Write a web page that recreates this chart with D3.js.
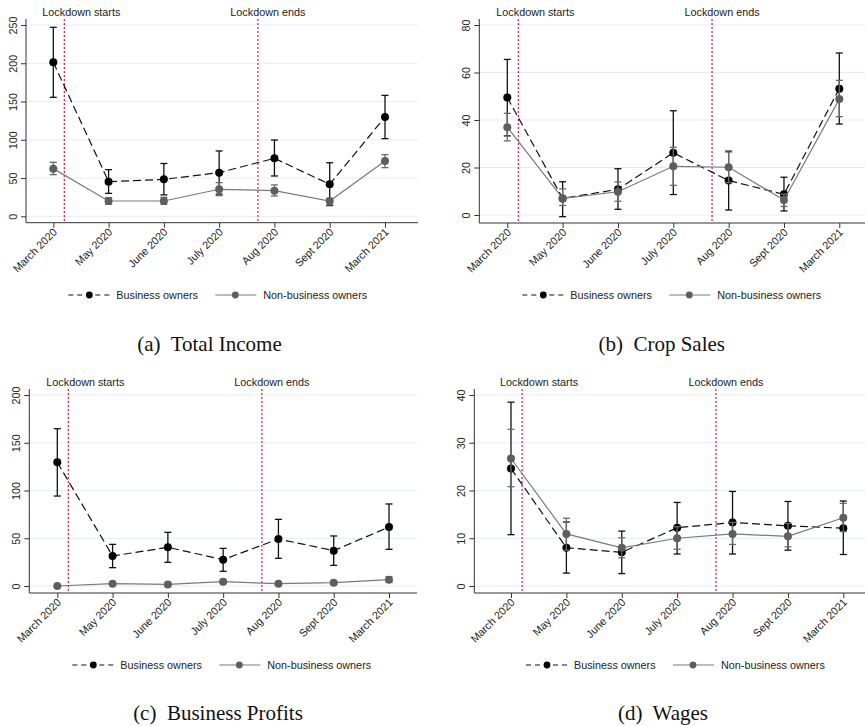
<!DOCTYPE html>
<html>
<head>
<meta charset="utf-8">
<script src="https://cdn.jsdelivr.net/npm/d3@7"></script>
<style>
  html, body { margin: 0; padding: 0; background: #fff; }
  svg { display: block; }
</style>
</head>
<body>
<svg id="chart" width="865" height="726"></svg>
<script>
// ---------- DATA ----------
const categories = ["March 2020", "May 2020", "June 2020", "July 2020", "Aug 2020", "Sept 2020", "March 2021"];
const seriesNames = ["Business owners", "Non-business owners"];
const lockdownLabels = ["Lockdown starts", "Lockdown ends"];
const lockdownPos = [0.2, 3.7]; // position on the category index axis

// (a) Total Income
const incomeTicks = [0, 50, 100, 150, 200, 250];
const incomeBiz   = [201.2, 45.3, 48.3, 57, 75.8, 41.8, 129.8];
const incomeBizLo = [155.5, 30, 28, 29, 52.7, 14, 101.5];
const incomeBizHi = [247, 61, 69, 85.4, 99.7, 70, 158];
const incomeNon   = [62.3, 20, 20, 35.3, 33.5, 20, 72.3];
const incomeNonLo = [54.4, 15.7, 15.7, 27, 26.6, 15, 63.6];
const incomeNonHi = [70.6, 24.4, 24.8, 44, 41, 23.5, 80.6];

// (b) Crop Sales
const cropTicks = [0, 20, 40, 60, 80];
const cropBiz   = [49.5, 7, 10.8, 26.2, 14.5, 8.7, 53.2];
const cropBizLo = [33.3, -0.7, 2.4, 8.6, 2.1, 1.7, 38.3];
const cropBizHi = [65.5, 14, 19.5, 43.9, 26.9, 15.9, 68.2];
const cropNon   = [37, 7, 9.8, 20.5, 20.1, 6.3, 48.8];
const cropNonLo = [31.2, 4, 5.8, 12.5, 13.6, 3.6, 41.4];
const cropNonHi = [42.8, 11, 13.9, 28.5, 26.5, 8.8, 56.7];

// (c) Business Profits
const profitTicks = [0, 50, 100, 150, 200];
const profitBiz   = [129.5, 31.4, 40.5, 27.6, 49.2, 37, 61.8];
const profitBizLo = [94.2, 19.2, 24.8, 15.4, 29, 21.6, 38.4];
const profitBizHi = [164.7, 43.6, 56.2, 39.4, 69.8, 52.4, 85.9];
const profitNon   = [0, 2.4, 1.7, 4.5, 2.4, 3.5, 6.6];
const profitNonLo = [-0.5, 0.9, 0.4, 2.5, 1.1, 2, 3.8];
const profitNonHi = [0.5, 3.9, 3, 6.5, 3.7, 5, 9.8];

// (d) Wages
const wageTicks = [0, 10, 20, 30, 40];
const wageBiz   = [24.6, 8, 7.05, 12.2, 13.3, 12.6, 12.1];
const wageBizLo = [10.75, 2.7, 2.6, 6.7, 6.7, 7.5, 6.6];
const wageBizHi = [38.5, 13.4, 11.5, 17.5, 19.8, 17.7, 17.8];
const wageNon   = [26.7, 10.9, 8, 10, 10.9, 10.4, 14.3];
const wageNonLo = [20.8, 7.5, 5.9, 7.7, 8.7, 8.2, 11.4];
const wageNonHi = [32.8, 14.2, 10.1, 12.4, 13.3, 13.1, 17.3];

const captions = ["(a)  Total Income", "(b)  Crop Sales", "(c)  Business Profits", "(d)  Wages"];

// ---------- LAYOUT ----------
const panels = [
  { ticks: incomeTicks, biz: incomeBiz, bizLo: incomeBizLo, bizHi: incomeBizHi, non: incomeNon, nonLo: incomeNonLo, nonHi: incomeNonHi,
    left: 26, right: 418, top: 19, axisY: 222.7, y0: 216.3, y1: 25, x0: 53.3, x1: 385, legY: 295, capX: 209.5, capY: 351, caption: captions[0] },
  { ticks: cropTicks, biz: cropBiz, bizLo: cropBizLo, bizHi: cropBizHi, non: cropNon, nonLo: cropNonLo, nonHi: cropNonHi,
    left: 479.3, right: 865, top: 19, axisY: 223, y0: 215, y1: 25, x0: 507.3, x1: 839.3, legY: 295, capX: 661.7, capY: 351, caption: captions[1] },
  { ticks: profitTicks, biz: profitBiz, bizLo: profitBizLo, bizHi: profitBizHi, non: profitNon, nonLo: profitNonLo, nonHi: profitNonHi,
    left: 29.3, right: 417, top: 389, axisY: 593, y0: 586, y1: 395, x0: 57.3, x1: 389, legY: 665, capX: 218, capY: 720, caption: captions[2] },
  { ticks: wageTicks, biz: wageBiz, bizLo: wageBizLo, bizHi: wageBizHi, non: wageNon, nonLo: wageNonLo, nonHi: wageNonHi,
    left: 474.3, right: 865, top: 389, axisY: 593, y0: 586, y1: 395, x0: 511, x1: 843.3, legY: 665, capX: 663, capY: 720, caption: captions[3] }
];

const FONT = "'Liberation Sans', Arial, Helvetica, sans-serif";
const SERIF = "'Liberation Serif', 'Times New Roman', serif";
const BLACK = "#111";
const GREY_LINE = "#7a7a7a";
const GREY_DOT = "#5e5e5e";
const GREY_BAR = "#6a6a6a";
const RED = "#e8294f";
const GRID = "#e4edf0";

const svg = d3.select("#chart");

panels.forEach(p => {
  const g = svg.append("g");
  const yMax = p.ticks[p.ticks.length - 1];
  const y = d3.scaleLinear().domain([0, yMax]).range([p.y0, p.y1]);
  const xi = d3.scaleLinear().domain([0, categories.length - 1]).range([p.x0, p.x1]);
  const x = d3.scalePoint().domain(categories).range([p.x0, p.x1]);

  // gridlines
  g.append("g").selectAll("line").data(p.ticks).join("line")
    .attr("x1", p.left).attr("x2", p.right)
    .attr("y1", d => y(d)).attr("y2", d => y(d))
    .attr("stroke", GRID).attr("stroke-width", 1);

  // y axis
  const yAxis = d3.axisLeft(y).tickValues(p.ticks).tickSize(5).tickPadding(4).tickFormat(d3.format("d"));
  const ya = g.append("g").attr("transform", `translate(${p.left},0)`).call(yAxis);
  ya.select(".domain").remove();
  ya.selectAll(".tick line").attr("stroke", "#333");
  ya.selectAll(".tick text")
    .attr("x", null).attr("dy", null)
    .attr("transform", "translate(-9,0) rotate(-90)")
    .attr("text-anchor", "middle")
    .attr("font-family", FONT).attr("font-size", "10.8px").attr("fill", "#222");
  g.append("line").attr("x1", p.left).attr("x2", p.left).attr("y1", p.top).attr("y2", p.axisY)
    .attr("stroke", "#333").attr("stroke-width", 1);

  // x axis
  const xAxis = d3.axisBottom(x).tickSize(5).tickPadding(3);
  const xa = g.append("g").attr("transform", `translate(0,${p.axisY})`).call(xAxis);
  xa.select(".domain").remove();
  xa.selectAll(".tick line").attr("stroke", "#333");
  xa.selectAll(".tick text")
    .attr("y", null).attr("dy", null)
    .attr("transform", "translate(4,10) rotate(-45)")
    .attr("text-anchor", "end")
    .attr("font-family", FONT).attr("font-size", "10.8px").attr("fill", "#222");
  g.append("line").attr("x1", p.left).attr("x2", p.right).attr("y1", p.axisY).attr("y2", p.axisY)
    .attr("stroke", "#333").attr("stroke-width", 1);

  // lockdown lines
  g.append("g").selectAll("line").data(lockdownPos).join("line")
    .attr("x1", d => xi(d)).attr("x2", d => xi(d))
    .attr("y1", p.top).attr("y2", p.axisY)
    .attr("stroke", RED).attr("stroke-width", 1.3).attr("stroke-dasharray", "2,2");
  const labelOffsets = [17, 10];
  g.append("g").selectAll("text").data(lockdownLabels).join("text")
    .attr("x", (d, i) => xi(lockdownPos[i]) + labelOffsets[i])
    .attr("y", p.top - 3)
    .attr("text-anchor", "middle")
    .attr("font-family", FONT).attr("font-size", "10.8px").attr("fill", "#222")
    .text(d => d);

  const idx = d3.range(categories.length);
  const cap = 3.5;

  function drawSeries(vals, lo, hi, barColor, lineColor, dotColor, dash, r) {
    const eb = g.append("g").attr("stroke", barColor).attr("stroke-width", 1.3).attr("fill", "none");
    eb.selectAll("line.v").data(idx).join("line").attr("class", "v")
      .attr("x1", i => x(categories[i])).attr("x2", i => x(categories[i]))
      .attr("y1", i => y(lo[i])).attr("y2", i => y(hi[i]));
    eb.selectAll("line.t").data(idx).join("line").attr("class", "t")
      .attr("x1", i => x(categories[i]) - cap).attr("x2", i => x(categories[i]) + cap)
      .attr("y1", i => y(hi[i])).attr("y2", i => y(hi[i]));
    eb.selectAll("line.b").data(idx).join("line").attr("class", "b")
      .attr("x1", i => x(categories[i]) - cap).attr("x2", i => x(categories[i]) + cap)
      .attr("y1", i => y(lo[i])).attr("y2", i => y(lo[i]));
    const line = d3.line().x(i => x(categories[i])).y(i => y(vals[i]));
    g.append("path").datum(idx).attr("d", line)
      .attr("fill", "none").attr("stroke", lineColor).attr("stroke-width", 1.2)
      .attr("stroke-dasharray", dash);
    g.append("g").selectAll("circle").data(idx).join("circle")
      .attr("cx", i => x(categories[i])).attr("cy", i => y(vals[i])).attr("r", r)
      .attr("fill", dotColor);
  }
  drawSeries(p.biz, p.bizLo, p.bizHi, BLACK, BLACK, "#000", "8,4", 4);
  drawSeries(p.non, p.nonLo, p.nonHi, GREY_BAR, GREY_LINE, GREY_DOT, null, 4);

  // legend
  const lg = g.append("g").attr("transform", `translate(${p.x0},${p.legY})`);
  lg.append("line").attr("x1", 15).attr("x2", 58).attr("y1", 0).attr("y2", 0)
    .attr("stroke", BLACK).attr("stroke-width", 1.2).attr("stroke-dasharray", "5,4");
  lg.append("circle").attr("cx", 36).attr("cy", 0).attr("r", 3.4).attr("fill", "#000");
  lg.append("text").attr("x", 63).attr("y", 4).attr("font-family", FONT).attr("font-size", "10.8px")
    .attr("fill", "#222").text(seriesNames[0]);
  lg.append("line").attr("x1", 162).attr("x2", 203).attr("y1", 0).attr("y2", 0)
    .attr("stroke", GREY_LINE).attr("stroke-width", 1.2);
  lg.append("circle").attr("cx", 182).attr("cy", 0).attr("r", 3.4).attr("fill", GREY_DOT);
  lg.append("text").attr("x", 210).attr("y", 4).attr("font-family", FONT).attr("font-size", "10.8px")
    .attr("fill", "#222").text(seriesNames[1]);

  // caption
  svg.append("text").attr("x", p.capX).attr("y", p.capY).attr("text-anchor", "middle")
    .attr("font-family", SERIF).attr("font-size", "21px").attr("fill", "#111")
    .attr("xml:space", "preserve").style("white-space", "pre")
    .text(p.caption);
});
</script>
</body>
</html>
